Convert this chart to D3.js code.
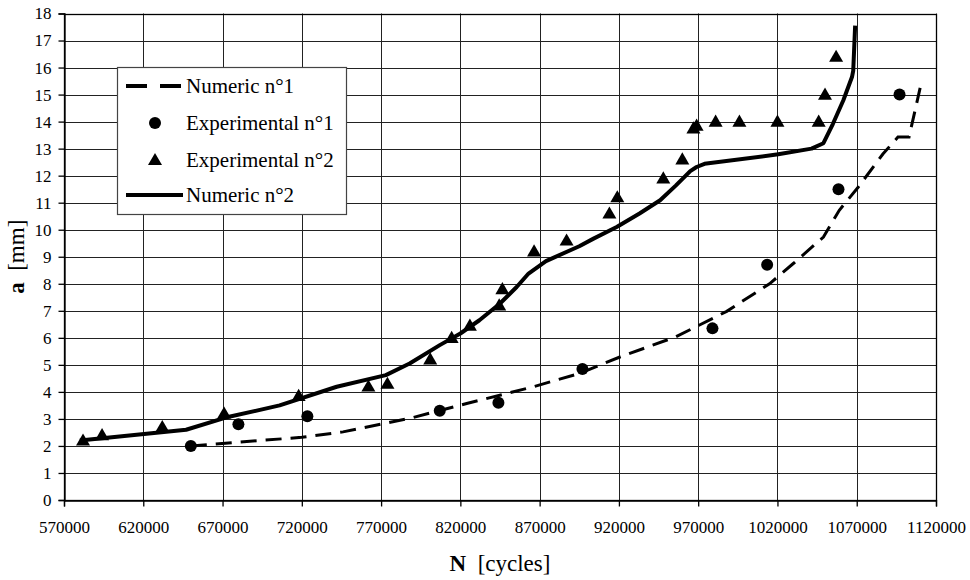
<!DOCTYPE html>
<html>
<head>
<meta charset="utf-8">
<script src="https://cdn.jsdelivr.net/npm/d3@7"></script>
<style>
  body { margin: 0; background: #fff; }
  svg text { font-family: "Liberation Serif", "DejaVu Serif", "Times New Roman", Times, serif; fill: #000; }
</style>
</head>
<body>
<div id="chart"></div>
<script>
// chart data
var xTickValues = [570000, 620000, 670000, 720000, 770000, 820000, 870000, 920000, 970000, 1020000, 1070000, 1120000];
var yTickValues = [0, 1, 2, 3, 4, 5, 6, 7, 8, 9, 10, 11, 12, 13, 14, 15, 16, 17, 18];

var numeric1 = [
  [650000, 2.0], [720000, 2.32], [746000, 2.52], [788000, 3.02], [824000, 3.57],
  [866000, 4.19], [895000, 4.68], [921000, 5.3], [956000, 6.04], [988000, 6.98],
  [1015000, 8.0], [1030000, 8.75], [1049000, 9.73], [1059000, 10.72], [1071000, 11.58],
  [1086500, 12.8], [1096000, 13.43], [1103000, 13.43], [1110000, 15.25]
];

var experimental1 = [
  [650000, 2.0], [680000, 2.8], [723500, 3.1], [807000, 3.3], [844000, 3.6],
  [897000, 4.85], [979000, 6.35], [1013500, 8.7], [1058500, 11.5], [1097000, 15.0]
];

var experimental2 = [
  [582000, 2.2], [594000, 2.4], [632000, 2.7], [671000, 3.2], [718000, 3.85],
  [762000, 4.2], [774000, 4.3], [801000, 5.2], [814500, 6.0], [826000, 6.45],
  [844500, 7.2], [846500, 7.8], [866500, 9.2], [887000, 9.6], [914000, 10.6],
  [919000, 11.2], [948000, 11.9], [960000, 12.6], [967000, 13.75], [969000, 13.85],
  [981000, 14.0], [996000, 14.0], [1020000, 14.0], [1046000, 14.0], [1050000, 15.0],
  [1057000, 16.4]
];

var numeric2 = [
  [580000, 2.2], [647000, 2.6], [672000, 3.05], [706000, 3.5], [742000, 4.19],
  [773000, 4.62], [788000, 5.05], [807000, 5.73], [820000, 6.16], [832000, 6.65],
  [845000, 7.27], [855500, 7.88], [863000, 8.38], [874000, 8.84], [895000, 9.39],
  [904000, 9.67], [918600, 10.1], [933000, 10.6], [946000, 11.09], [956000, 11.64],
  [965000, 12.17], [969000, 12.32], [974000, 12.44], [1020500, 12.79], [1041500, 13.0],
  [1049000, 13.2], [1055000, 13.92], [1061500, 14.78], [1067000, 15.65], [1067800, 15.89],
  [1069000, 17.55]
];

var legendItems = ["Numeric n°1", "Experimental n°1", "Experimental n°2", "Numeric n°2"];

var width = 970,
    height = 580,
    margin = {top: 13.5, right: 34, bottom: 80, left: 64},
    serif = "'Liberation Serif', 'DejaVu Serif', 'Times New Roman', serif";

var x = d3.scaleLinear()
    .domain([570000, 1120000])
    .range([margin.left, width - margin.right]);

var y = d3.scaleLinear()
    .domain([0, 18])
    .range([height - margin.bottom, margin.top]);

var svg = d3.select("#chart").append("svg")
    .attr("width", width)
    .attr("height", height)
    .attr("font-family", serif);

// grid
svg.append("g")
    .selectAll("line")
    .data(yTickValues)
  .enter().append("line")
    .attr("x1", x.range()[0])
    .attr("x2", x.range()[1])
    .attr("y1", function(d) { return Math.round(y(d)) + 0.5; })
    .attr("y2", function(d) { return Math.round(y(d)) + 0.5; })
    .style("stroke", "#222")
    .style("stroke-width", 1);

svg.append("g")
    .selectAll("line")
    .data(xTickValues)
  .enter().append("line")
    .attr("x1", function(d) { return Math.round(x(d)) + 0.5; })
    .attr("x2", function(d) { return Math.round(x(d)) + 0.5; })
    .attr("y1", y.range()[0])
    .attr("y2", y.range()[1])
    .style("stroke", "#222")
    .style("stroke-width", 1);

// axes
var xAxis = svg.append("g")
    .attr("transform", "translate(0," + (Math.round(y(0)) + 0.5) + ")")
    .call(d3.axisBottom(x).tickValues(xTickValues).tickFormat(d3.format("d")).tickSizeOuter(0).tickSize(6).tickPadding(14));

var yAxis = svg.append("g")
    .attr("transform", "translate(" + (Math.round(x(570000)) + 0.5) + ",0)")
    .call(d3.axisLeft(y).tickValues(yTickValues).tickFormat(d3.format("d")).tickSizeOuter(0).tickSize(6).tickPadding(7));

xAxis.attr("font-family", serif).attr("font-size", 17);
yAxis.attr("font-family", serif).attr("font-size", 17);
svg.selectAll(".domain, .tick line").style("stroke", "#000").style("stroke-width", 1.3);

// frame top/right
svg.append("rect")
    .attr("x", Math.round(x(570000)) + 0.5)
    .attr("y", Math.round(y(18)) + 0.5)
    .attr("width", Math.round(x(1120000)) - Math.round(x(570000)))
    .attr("height", Math.round(y(0)) - Math.round(y(18)))
    .style("fill", "none")
    .style("stroke", "#000")
    .style("stroke-width", 1.3);

// axis titles
var xTitle = svg.append("text")
    .attr("x", (x.range()[0] + x.range()[1]) / 2)
    .attr("y", 571)
    .attr("text-anchor", "middle")
    .style("font-size", "23px");
xTitle.append("tspan").style("font-weight", "bold").text("N");
xTitle.append("tspan").text("\u00a0 [cycles]");

var yTitle = svg.append("text")
    .attr("transform", "translate(24," + ((y.range()[0] + y.range()[1]) / 2) + ") rotate(-90)")
    .attr("text-anchor", "middle")
    .style("font-size", "23px");
yTitle.append("tspan").style("font-weight", "bold").text("a");
yTitle.append("tspan").text("\u00a0 [mm]");

// series
var line = d3.line()
    .x(function(d) { return x(d[0]); })
    .y(function(d) { return y(d[1]); });

svg.append("path")
    .datum(numeric1)
    .attr("d", line)
    .style("fill", "none")
    .style("stroke", "#000")
    .style("stroke-width", 3)
    .style("stroke-dasharray", "16,9");

svg.append("path")
    .datum(numeric2)
    .attr("d", line)
    .style("fill", "none")
    .style("stroke", "#000")
    .style("stroke-width", 4)
    .style("stroke-linejoin", "round");

svg.append("g")
    .selectAll("circle")
    .data(experimental1)
  .enter().append("circle")
    .attr("cx", function(d) { return x(d[0]); })
    .attr("cy", function(d) { return y(d[1]); })
    .attr("r", 6)
    .style("fill", "#000");

var triangle = d3.symbol().type(d3.symbolTriangle).size(85);

svg.append("g")
    .selectAll("path")
    .data(experimental2)
  .enter().append("path")
    .attr("d", triangle)
    .attr("transform", function(d) { return "translate(" + x(d[0]) + "," + (y(d[1]) + 1) + ")"; })
    .style("fill", "#000");

// legend
var legend = svg.append("g")
    .attr("transform", "translate(117,67)");

legend.append("rect")
    .attr("x", 0.5)
    .attr("y", 0.5)
    .attr("width", 229)
    .attr("height", 147)
    .style("fill", "#fff")
    .style("stroke", "#444")
    .style("stroke-width", 1.2);

var rowY = [19, 56, 93, 128];

legend.append("line")
    .attr("x1", 9).attr("x2", 66)
    .attr("y1", rowY[0]).attr("y2", rowY[0])
    .style("stroke", "#000")
    .style("stroke-width", 4)
    .style("stroke-dasharray", "21,13");

legend.append("circle")
    .attr("cx", 38).attr("cy", rowY[1])
    .attr("r", 6)
    .style("fill", "#000");

legend.append("path")
    .attr("d", triangle)
    .attr("transform", "translate(38," + (rowY[2] + 1) + ")")
    .style("fill", "#000");

legend.append("line")
    .attr("x1", 9).attr("x2", 66)
    .attr("y1", rowY[3]).attr("y2", rowY[3])
    .style("stroke", "#000")
    .style("stroke-width", 4);

legend.selectAll("text.label")
    .data(legendItems)
  .enter().append("text")
    .attr("class", "label")
    .attr("x", 69)
    .attr("y", function(d, i) { return rowY[i]; })
    .attr("dy", "0.35em")
    .style("font-size", "21px")
    .text(function(d) { return d; });
</script>
</body>
</html>
